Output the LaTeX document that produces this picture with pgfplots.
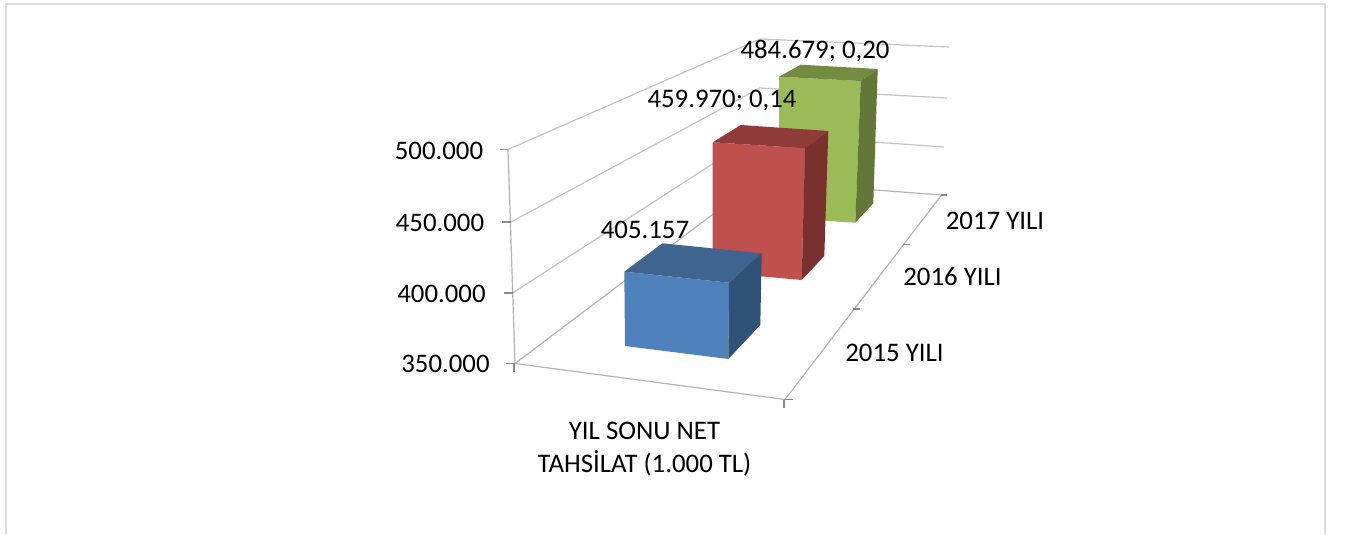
\documentclass[border=0pt]{standalone}
\usepackage{pgfplots}
\pgfplotsset{compat=1.18}
\usepackage{fontspec}
\setmainfont{Carlito}
\definecolor{frameC}{HTML}{DCDCDC}
\definecolor{gridC}{HTML}{C4C4C4}
\definecolor{axisC}{HTML}{B4B4B4}
\definecolor{tickC}{HTML}{8A8A8A}
\definecolor{bF}{HTML}{4F81BD}\definecolor{bT}{HTML}{3E648F}\definecolor{bS}{HTML}{305279}
\definecolor{rF}{HTML}{C0504D}\definecolor{rT}{HTML}{8F3B39}\definecolor{rS}{HTML}{7A302E}
\definecolor{gF}{HTML}{9BBB59}\definecolor{gT}{HTML}{748C42}\definecolor{gS}{HTML}{637738}
\newcommand{\lab}[3]{\node[font=\fontsize{26.8bp}{30bp}\selectfont,inner sep=0pt,anchor=center,align=center] at (axis cs:#1,#2) {#3};}
\begin{document}
\begin{tikzpicture}
\begin{axis}[
  width=1345bp,height=534bp,scale only axis,
  xmin=0,xmax=1345,ymin=0,ymax=534,y dir=reverse,
  hide axis,clip=false,
  every axis plot/.append style={no markers}]
\path (axis cs:0,0) rectangle (axis cs:1345,534);
% frame
\addplot[frameC,line width=2bp] coordinates {(5.5,533.5)(5.5,4.5)(1325,4.5)(1325,533.5)};
% left wall grid
\addplot[gridC,line width=1.2bp] coordinates {(508,149.5)(760,39)(949,47)};
\addplot[gridC,line width=1.2bp] coordinates {(511,222)(760,88)(947,98)};
\addplot[gridC,line width=1.2bp] coordinates {(512.5,293)(759,134)(944,147)};
\addplot[axisC,line width=1.2bp] coordinates {(515,363.5)(757,181)(941.5,195)};
% axis lines
\addplot[axisC,line width=1.2bp] coordinates {(508,149.5)(515,363.5)(785,399.5)(941.5,195)};
% ticks
\addplot[tickC,line width=1.2bp] coordinates {(499.5,149.5)(508,149.5)};
\addplot[tickC,line width=1.2bp] coordinates {(501.5,222)(511,222)};
\addplot[tickC,line width=1.2bp] coordinates {(503.5,293)(512.5,293)};
\addplot[tickC,line width=1.2bp] coordinates {(505.5,363.5)(515,363.5)};
\addplot[tickC,line width=1.2bp] coordinates {(514,363.5)(514,372)};
\addplot[tickC,line width=1.2bp] coordinates {(784,399.5)(784,408)};
\addplot[tickC,line width=1.2bp] coordinates {(784,399.5)(792.5,399.5)};
\addplot[tickC,line width=1.2bp] coordinates {(853,309)(860,309)};
\addplot[tickC,line width=1.2bp] coordinates {(903,244.5)(910,244.5)};
\addplot[tickC,line width=1.2bp] coordinates {(941,195)(947,195)};
% 2017 YILI: 484.679
\addplot[fill=gF,draw=none] coordinates {(779,76.7)(860.7,81)(855.3,222.7)(779,218)} -- cycle;
\addplot[fill=gT,draw=none] coordinates {(779,76.7)(800.7,64.7)(877.7,69)(860.7,81)} -- cycle;
\addplot[fill=gS,draw=none] coordinates {(860.7,81)(877.7,69)(873.3,203.3)(855.3,222.7)} -- cycle;
% 2016 YILI: 459.970
\addplot[fill=rF,draw=none] coordinates {(712.7,142.3)(805,148.3)(801.7,280)(712.7,272)} -- cycle;
\addplot[fill=rT,draw=none] coordinates {(712.7,142.3)(740.7,125)(828.3,131)(805,148.3)} -- cycle;
\addplot[fill=rS,draw=none] coordinates {(805,148.3)(828.3,131)(824.3,256)(801.7,280)} -- cycle;
% 2015 YILI: 405.157
\addplot[fill=bF,draw=none] coordinates {(624.3,271.7)(729,282.7)(728.3,359)(625,346)} -- cycle;
\addplot[fill=bT,draw=none] coordinates {(624.3,271.7)(662.3,243.3)(761.7,253.3)(729,282.7)} -- cycle;
\addplot[fill=bS,draw=none] coordinates {(729,282.7)(761.7,253.3)(760.3,325)(728.3,359)} -- cycle;
% text
\lab{439}{151}{500.000}
\lab{440}{223}{450.000}
\lab{441.5}{294}{400.000}
\lab{445.5}{364}{350.000}
\lab{815}{51}{484.679; 0,20}
\lab{722}{101}{459.970; 0,14}
\lab{645}{230}{405.157}
\lab{995}{220.5}{2017 YILI}
\lab{952.5}{276.5}{2016 YILI}
\lab{894.5}{352.5}{2015 YILI}
\lab{644.5}{430.5}{YIL SONU NET}
\lab{644.5}{463.5}{TAHSİLAT (1.000 TL)}
\end{axis}
\end{tikzpicture}
\end{document}
